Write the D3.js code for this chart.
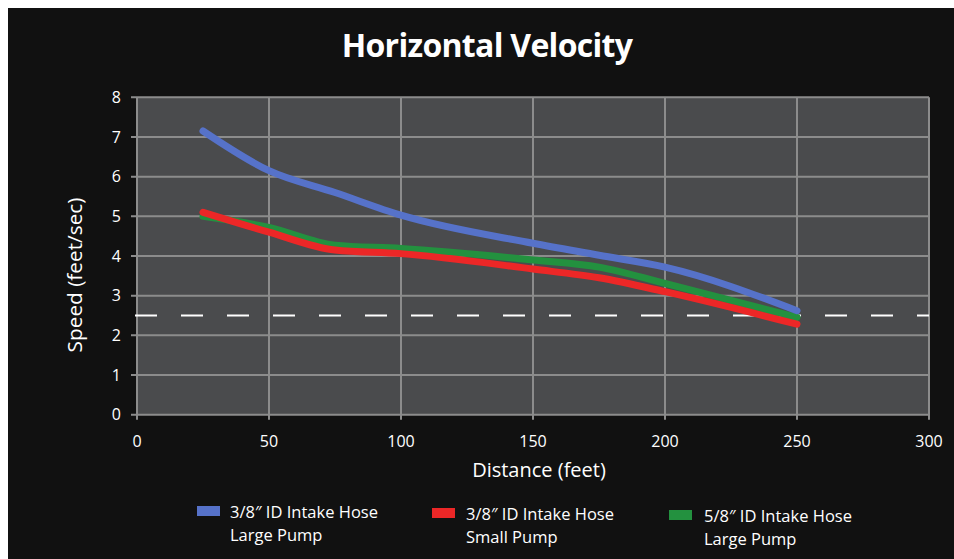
<!DOCTYPE html>
<html><head><meta charset="utf-8">
<script src="https://cdn.jsdelivr.net/npm/d3@7"></script>
<style>body{margin:0;background:#fff}svg{display:block}</style>
</head><body>
<svg id="c" width="954" height="559"></svg>
<script>
const distances = [25, 50, 75, 100, 150, 175, 200, 250];
const blueLarge38 = [7.15, 6.15, 5.6, 5.03, 4.32, 4.02, 3.72, 2.62];
const redSmall38 = [5.1, 4.6, 4.15, 4.06, 3.67, 3.45, 3.1, 2.28];
const greenLarge58 = [5.0, 4.72, 4.27, 4.19, 3.9, 3.72, 3.31, 2.45];
const xTicks = [0, 50, 100, 150, 200, 250, 300];
const yTicks = [0, 1, 2, 3, 4, 5, 6, 7, 8];
const thresholdSpeed = 2.5;
const seriesNames = [["3/8″ ID Intake Hose", "Large Pump"], ["3/8″ ID Intake Hose", "Small Pump"], ["5/8″ ID Intake Hose", "Large Pump"]];
const seriesColors = ["#5672c9", "#ec2727", "#23913f"];

const svg = d3.select("#c");
const font = "'Open Sans', 'Noto Sans', sans-serif";
svg.append("rect").attr("x", 8).attr("y", 8).attr("width", 946).attr("height", 551).attr("fill", "#111111");

const x = d3.scaleLinear().domain([0, 300]).range([137, 929]);
const y = d3.scaleLinear().domain([0, 8]).range([414.7, 97.3]);

svg.append("rect").attr("x", x(0)).attr("y", y(8)).attr("width", x(300) - x(0)).attr("height", y(0) - y(8)).attr("fill", "#4a4b4d");

const grid = svg.append("g").attr("stroke", "#8c8c8c").attr("stroke-width", 2);
yTicks.forEach(t => grid.append("line").attr("x1", x(0) - 6).attr("x2", x(300)).attr("y1", y(t)).attr("y2", y(t)));
xTicks.forEach(t => grid.append("line").attr("x1", x(t)).attr("x2", x(t)).attr("y1", y(8)).attr("y2", y(0) + 5));

svg.append("g").selectAll("text").data(yTicks).join("text")
  .attr("x", 121).attr("y", d => y(d)).attr("dy", "0.35em").attr("text-anchor", "end")
  .attr("fill", "#fff").attr("font-family", font).attr("font-size", 16).text(d => d);
svg.append("g").selectAll("text").data(xTicks).join("text")
  .attr("x", d => x(d)).attr("y", 447).attr("text-anchor", "middle")
  .attr("fill", "#fff").attr("font-family", font).attr("font-size", 16).text(d => d);

svg.append("text").attr("x", 539).attr("y", 477).attr("text-anchor", "middle")
  .attr("fill", "#fff").attr("font-family", font).attr("font-size", 20).text("Distance (feet)");
svg.append("text").attr("transform", "translate(82,275) rotate(-90)").attr("text-anchor", "middle")
  .attr("fill", "#fff").attr("font-family", font).attr("font-size", 20.8).text("Speed (feet/sec)");

svg.append("text").attr("x", 487).attr("y", 57).attr("text-anchor", "middle")
  .attr("fill", "#fff").attr("font-family", font).attr("font-weight", "bold").attr("font-size", 32)
  .attr("letter-spacing", -0.7).text("Horizontal Velocity");

svg.append("line").attr("x1", x(0) - 2).attr("x2", x(300)).attr("y1", y(thresholdSpeed)).attr("y2", y(thresholdSpeed))
  .attr("stroke", "#fff").attr("stroke-width", 2).attr("stroke-dasharray", "22,24");

const line = d3.line().x(d => x(d[0])).y(d => y(d[1])).curve(d3.curveMonotoneX);
[greenLarge58, redSmall38, blueLarge38].forEach((vals, i) => {
  const idx = [2, 1, 0][i];
  svg.append("path").attr("d", line(distances.map((d, j) => [d, vals[j]])))
    .attr("fill", "none").attr("stroke", seriesColors[idx]).attr("stroke-width", 7)
    .attr("stroke-linecap", "round").attr("stroke-linejoin", "round");
});

const legX = [197, 432, 669];
const legY = [506, 508, 510];
const legTextX = [230, 466, 704];
seriesNames.forEach((nm, i) => {
  svg.append("rect").attr("x", legX[i]).attr("y", legY[i]).attr("width", 23).attr("height", 10).attr("fill", seriesColors[i]);
  const t = svg.append("text").attr("fill", "#fff").attr("font-family", font).attr("font-size", 16.5);
  t.append("tspan").attr("x", legTextX[i]).attr("y", legY[i] + 12).text(nm[0]);
  t.append("tspan").attr("x", legTextX[i]).attr("y", legY[i] + 35).text(nm[1]);
});
</script>
</body></html>
